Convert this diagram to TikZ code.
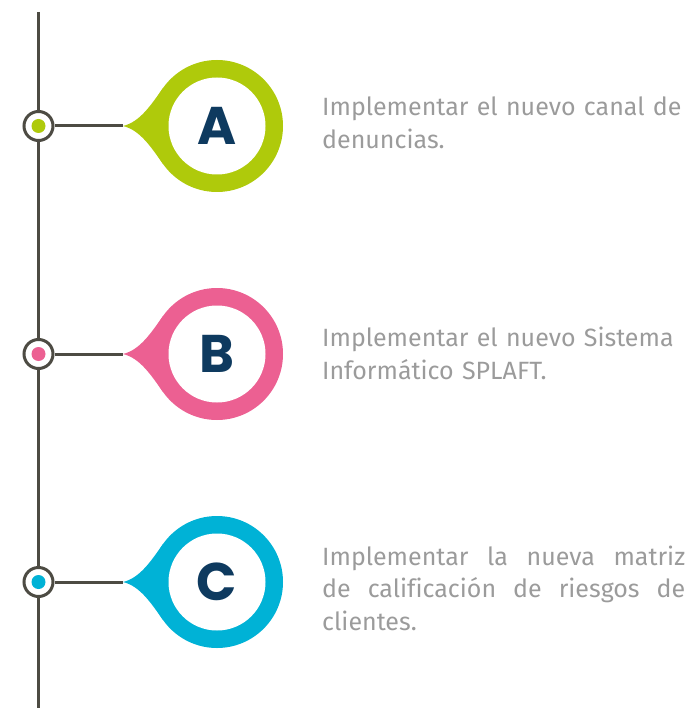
\documentclass[tikz,border=0pt]{standalone}
\usepackage{fontspec}
\setmainfont{Fira Sans}[Ligatures=CommonOff]
\newfontfamily\letterfont{Poppins}
\definecolor{cA}{HTML}{AFCA0B}
\definecolor{cB}{HTML}{EC6092}
\definecolor{cC}{HTML}{00B2D6}
\definecolor{navy}{HTML}{0E3A5F}
\definecolor{txtgray}{HTML}{9B9B9B}
\definecolor{spinecol}{HTML}{4D4B43}
\tikzset{
  spine/.style={draw=spinecol, line width=3pt},
  ring/.style={circle, draw=spinecol, line width=3pt, fill=white, minimum size=29pt, inner sep=0pt},
  letter/.style={font=\letterfont\bfseries\fontsize{53}{53}\selectfont, text=navy, inner sep=0pt},
  desc/.style={anchor=base west, inner sep=0pt, text width=363pt, align=justify, text=txtgray, font=\fontsize{25}{33}\selectfont},
  descr/.style={desc, text width=400pt, align=left}
}
\begin{document}
\begin{tikzpicture}[x=1pt,y=-1pt]
\useasboundingbox (0,0) rectangle (687,708);
\draw[spine] (38.5,12) -- (38.5,708);
\foreach \yy/\col/\L in {126/cA/A,354/cB/B,582/cC/C}{
  \fill[\col] (217,\yy) circle[radius=66];
  \fill[\col] (162.9,\yy-37.9) .. controls (151.4,\yy-21.5) and (140,\yy-4) .. (123,\yy)
     .. controls (140,\yy+4) and (151.4,\yy+21.5) .. (162.9,\yy+37.9) -- (217,\yy) -- cycle;
  \fill[white] (217,\yy) circle[radius=48.5];
  \node[letter] (let\L) at (217,\yy) {\L};
  \coordinate (tip\L) at (123,\yy);
  \node[ring] (ring\L) at (38.5,\yy) {};
  \fill[\col] (ring\L.center) circle[radius=7];
  \draw[spine] (ring\L) -- (tip\L);
}
\node[descr] (tA) at (322,116) {Implementar el nuevo canal de\\ denuncias.};
\node[descr] (tB) at (322,346) {Implementar el nuevo Sistema\\ Informático SPLAFT.};
\node[desc, font=\fontsize{25}{32.5}\selectfont] (tC) at (322,565) {Implementar la nueva matriz\linebreak de calificación de riesgos de\linebreak clientes.};
\end{tikzpicture}
\end{document}
